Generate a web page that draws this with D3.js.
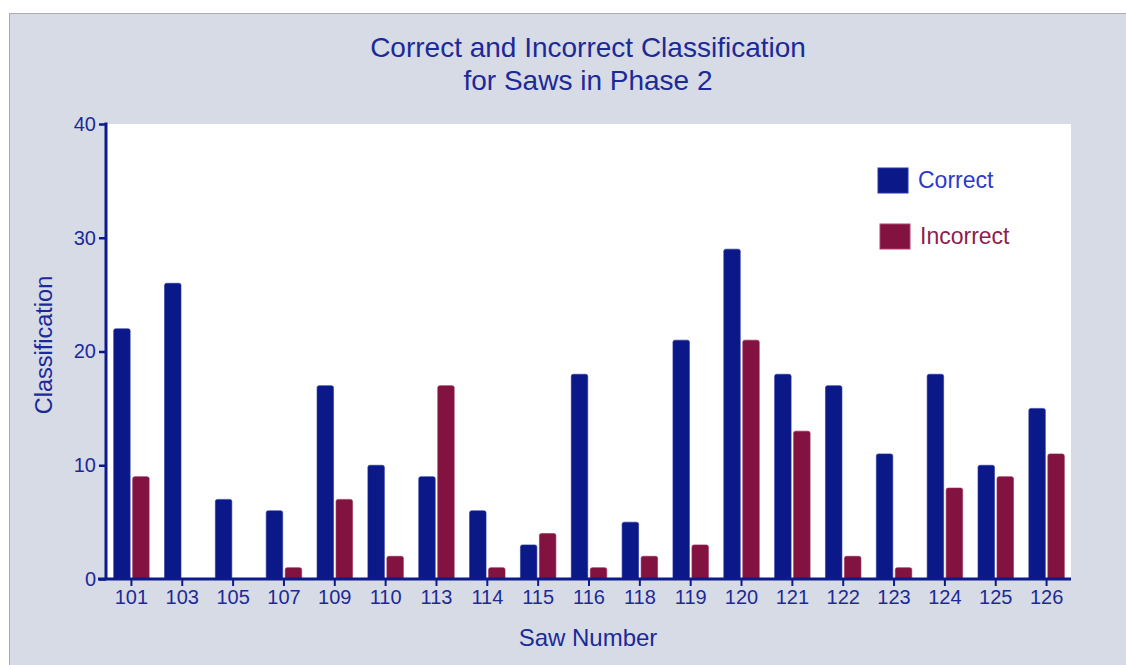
<!DOCTYPE html>
<html>
<head>
<meta charset="utf-8">
<script src="https://cdn.jsdelivr.net/npm/d3@7"></script>
<style>
  html, body { margin: 0; padding: 0; background: #ffffff; }
  svg { display: block; }
  text { font-family: "Liberation Sans", Arial, Helvetica, sans-serif; }
</style>
</head>
<body>
<svg id="chart" width="1126" height="665"></svg>
<script>
const categories = ["101","103","105","107","109","110","113","114","115","116","118","119","120","121","122","123","124","125","126"];
const correct    = [22, 26, 7, 6, 17, 10, 9, 6, 3, 18, 5, 21, 29, 18, 17, 11, 18, 10, 15];
const incorrect  = [9, 0, 0, 1, 7, 2, 17, 1, 4, 1, 2, 3, 21, 13, 2, 1, 8, 9, 11];
const seriesNames = ["Correct", "Incorrect"];
const yTicks = [0, 10, 20, 30, 40];
const titleLines = ["Correct and Incorrect Classification", "for Saws in Phase 2"];
const xTitle = "Saw Number";
const yTitle = "Classification";

const W = 1126, H = 665;
const svg = d3.select("#chart");

const axisColor = "#0d1a8c";
const textColor = "#1c2a98";
const barColors = ["#0a1888", "#82123f"];
const legendText = ["#2a3acc", "#8e1d4e"];

// panel
svg.append("rect").attr("x", 9.5).attr("y", 13.5).attr("width", W).attr("height", H)
  .attr("fill", "#d7dbe6").attr("stroke", "#a9abb0").attr("stroke-width", 1);

const plot = { left: 106, right: 1072, top: 124, bottom: 579 };

// white plot area
svg.append("rect").attr("x", plot.left).attr("y", plot.top)
  .attr("width", 1071 - plot.left).attr("height", plot.bottom - plot.top)
  .attr("fill", "#ffffff");

const x = d3.scaleBand().domain(categories).range([plot.left, plot.right]).padding(0);
const y = d3.scaleLinear().domain([0, 40]).range([plot.bottom, plot.top]);

const barW = 16.5, gap = 2.5;
const data = categories.map((c, i) => ({ c, vals: [correct[i], incorrect[i]] }));

const g = svg.append("g");
data.forEach(d => {
  const cx = x(d.c) + x.bandwidth() / 2;
  d.vals.forEach((v, s) => {
    if (v <= 0) return;
    const x0 = s === 0 ? cx - gap / 2 - barW : cx + gap / 2;
    const top = y(v);
    const r = 2;
    const p = `M${x0},${y(0)} V${top + r} Q${x0},${top} ${x0 + r},${top} H${x0 + barW - r} Q${x0 + barW},${top} ${x0 + barW},${top + r} V${y(0)} Z`;
    g.append("path").attr("d", p).attr("fill", barColors[s])
      .attr("stroke", s === 0 ? "#2a36a0" : "#9a2a58").attr("stroke-width", 0.6);
  });
});

// Y axis
const yAxis = d3.axisLeft(y).tickValues(yTicks).tickSize(7).tickPadding(3).tickSizeOuter(0);
const yg = svg.append("g").attr("transform", `translate(${plot.left},0)`).call(yAxis);
yg.select(".domain").attr("stroke", axisColor).attr("stroke-width", 3)
  .attr("d", `M0,${plot.top - 1.5}V${plot.bottom}`);
yg.selectAll(".tick line").attr("stroke", axisColor).attr("stroke-width", 2.5);
yg.selectAll(".tick text").attr("fill", textColor).attr("font-size", 20)
  .attr("font-family", "Liberation Sans, Arial, sans-serif");

// X axis
const xAxis = d3.axisBottom(x).tickSize(7).tickPadding(4).tickSizeOuter(0);
const xg = svg.append("g").attr("transform", `translate(0,${plot.bottom})`).call(xAxis);
xg.select(".domain").attr("stroke", axisColor).attr("stroke-width", 3)
  .attr("d", `M${plot.left - 8},0H${1071}`);
xg.selectAll(".tick line").attr("stroke", axisColor).attr("stroke-width", 2);
xg.selectAll(".tick text").attr("fill", textColor).attr("font-size", 20)
  .attr("font-family", "Liberation Sans, Arial, sans-serif");

// Title
svg.append("text").attr("x", 588).attr("y", 57).attr("text-anchor", "middle")
  .attr("font-size", 28).attr("fill", textColor).text(titleLines[0]);
svg.append("text").attr("x", 588).attr("y", 90).attr("text-anchor", "middle")
  .attr("font-size", 28).attr("fill", textColor).text(titleLines[1]);

// Axis titles
svg.append("text").attr("x", 588).attr("y", 646).attr("text-anchor", "middle")
  .attr("font-size", 24).attr("fill", textColor).text(xTitle);
svg.append("text").attr("transform", "translate(52,345) rotate(-90)").attr("text-anchor", "middle")
  .attr("font-size", 23.5).attr("fill", textColor).text(yTitle);

// Legend
const legY = [168, 224];
seriesNames.forEach((n, i) => {
  svg.append("rect").attr("x", 878 + i * 2).attr("y", legY[i]).attr("width", 30).attr("height", 25)
    .attr("fill", barColors[i]).attr("stroke", i === 0 ? "#2a36a0" : "#b0406e").attr("stroke-width", 1);
  svg.append("text").attr("x", 918 + i * 2).attr("y", legY[i] + 20)
    .attr("font-size", 23).attr("fill", legendText[i]).text(n);
});
</script>
</body>
</html>
